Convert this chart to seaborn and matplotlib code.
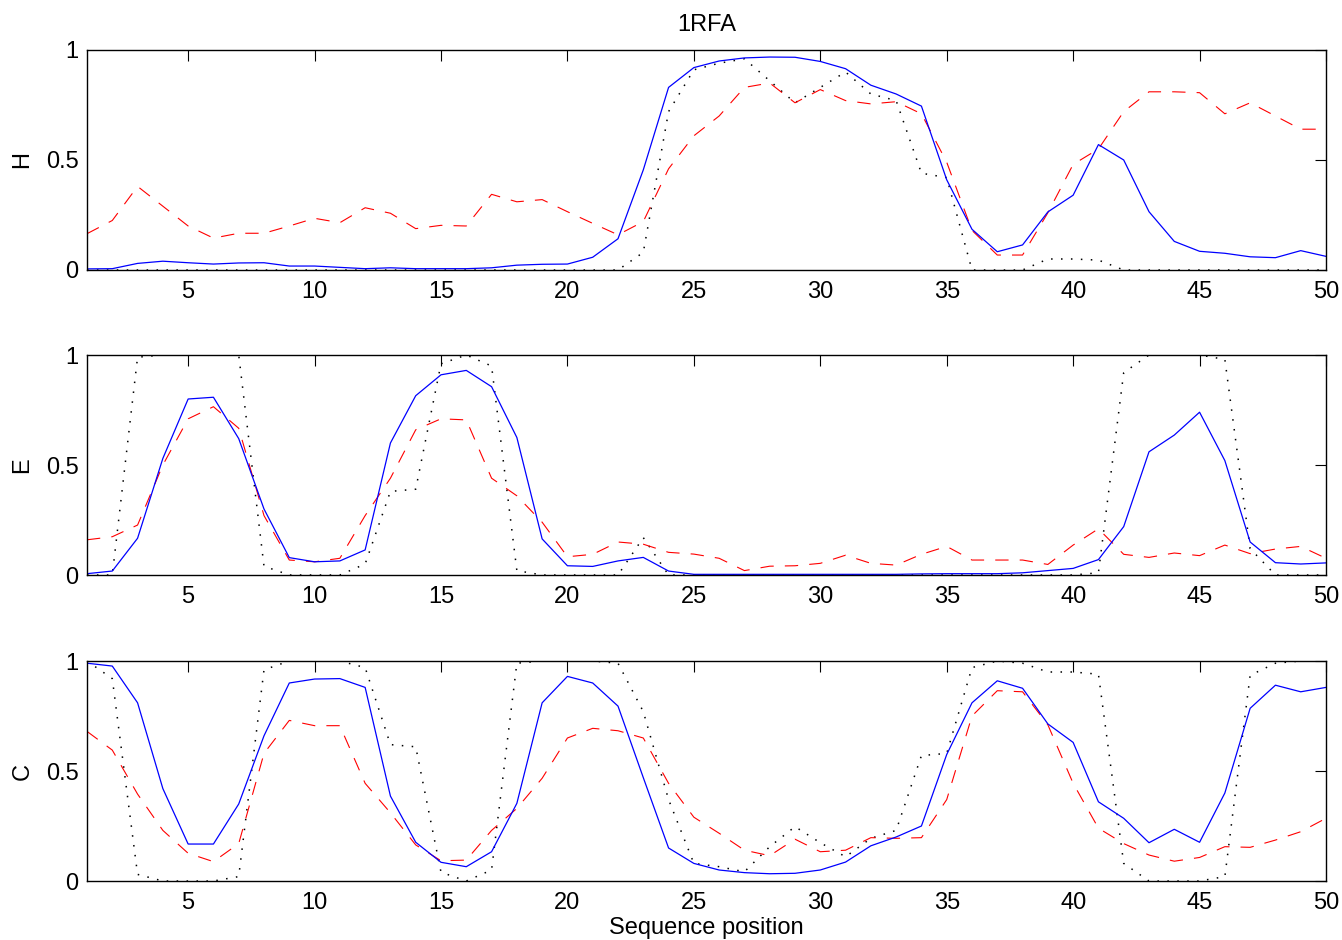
import numpy as np
import matplotlib
matplotlib.use('Agg')
import matplotlib.pyplot as plt
import seaborn as sns

# sequence positions
pos = np.arange(1, 51)

# H (helix): predicted (solid), second prediction (dashed), observed (dotted)
h_pred = [0.005, 0.006, 0.03, 0.04, 0.033, 0.027, 0.032, 0.033, 0.018, 0.018,
          0.012, 0.006, 0.01, 0.006, 0.006, 0.006, 0.01, 0.022, 0.026, 0.027,
          0.058, 0.142, 0.455, 0.83, 0.92, 0.95, 0.964, 0.968, 0.967, 0.948,
          0.915, 0.84, 0.80, 0.745, 0.41, 0.185, 0.083, 0.114, 0.264, 0.34,
          0.57, 0.50, 0.265, 0.13, 0.085, 0.076, 0.06, 0.056, 0.088, 0.062]
h_alt = [0.165, 0.225, 0.38, 0.29, 0.20, 0.145, 0.167, 0.167, 0.20, 0.235,
         0.215, 0.283, 0.258, 0.188, 0.203, 0.20, 0.344, 0.31, 0.32, 0.265,
         0.212, 0.16, 0.22, 0.46, 0.61, 0.70, 0.83, 0.85, 0.76, 0.82,
         0.77, 0.755, 0.765, 0.71, 0.49, 0.18, 0.068, 0.068, 0.26, 0.48,
         0.55, 0.72, 0.81, 0.81, 0.806, 0.71, 0.76, 0.70, 0.64, 0.64]
h_obs = [0, 0, 0, 0, 0, 0, 0, 0, 0, 0,
         0, 0, 0, 0, 0, 0, 0, 0, 0, 0,
         0, 0, 0.08, 0.72, 0.91, 0.94, 0.96, 0.86, 0.76, 0.83,
         0.90, 0.80, 0.77, 0.44, 0.42, 0, 0, 0, 0.05, 0.05,
         0.045, 0, 0, 0, 0, 0, 0, 0, 0, 0]

# E (strand)
e_pred = [0.006, 0.018, 0.167, 0.53, 0.80, 0.808, 0.62, 0.30, 0.079, 0.06,
          0.064, 0.114, 0.60, 0.815, 0.91, 0.93, 0.856, 0.625, 0.164, 0.042,
          0.039, 0.064, 0.08, 0.018, 0.003, 0.003, 0.003, 0.003, 0.003, 0.003,
          0.003, 0.003, 0.003, 0.005, 0.006, 0.006, 0.006, 0.01, 0.02, 0.03,
          0.07, 0.22, 0.56, 0.636, 0.74, 0.52, 0.15, 0.056, 0.05, 0.055]
e_alt = [0.16, 0.174, 0.227, 0.50, 0.71, 0.765, 0.667, 0.27, 0.068, 0.06,
         0.076, 0.27, 0.44, 0.66, 0.71, 0.705, 0.44, 0.36, 0.24, 0.083,
         0.094, 0.15, 0.14, 0.103, 0.095, 0.076, 0.02, 0.04, 0.042, 0.053,
         0.09, 0.053, 0.045, 0.094, 0.13, 0.068, 0.068, 0.068, 0.048, 0.136,
         0.21, 0.094, 0.08, 0.10, 0.088, 0.136, 0.097, 0.118, 0.13, 0.076]
e_obs = [0, 0, 0.99, 1, 1, 1, 1, 0.04, 0, 0,
         0, 0.05, 0.38, 0.39, 0.96, 1, 0.95, 0.02, 0, 0,
         0, 0, 0.17, 0, 0, 0, 0, 0, 0, 0,
         0, 0, 0, 0, 0, 0, 0, 0, 0, 0,
         0.01, 0.92, 1, 1, 1, 0.98, 0.12, 0, 0, 0]

# C (coil)
c_pred = [0.99, 0.977, 0.81, 0.42, 0.168, 0.168, 0.35, 0.66, 0.90, 0.918,
          0.92, 0.88, 0.386, 0.176, 0.085, 0.065, 0.133, 0.353, 0.81, 0.93,
          0.90, 0.795, 0.47, 0.15, 0.08, 0.05, 0.038, 0.033, 0.035, 0.05,
          0.086, 0.16, 0.20, 0.25, 0.575, 0.81, 0.91, 0.876, 0.714, 0.63,
          0.36, 0.285, 0.174, 0.235, 0.176, 0.40, 0.785, 0.89, 0.86, 0.88]
c_alt = [0.68, 0.595, 0.395, 0.23, 0.126, 0.088, 0.17, 0.58, 0.73, 0.706,
         0.706, 0.444, 0.31, 0.164, 0.092, 0.095, 0.23, 0.33, 0.467, 0.65,
         0.694, 0.683, 0.65, 0.444, 0.29, 0.217, 0.14, 0.115, 0.19, 0.133,
         0.14, 0.197, 0.194, 0.197, 0.37, 0.75, 0.865, 0.86, 0.71, 0.444,
         0.24, 0.17, 0.118, 0.09, 0.107, 0.156, 0.153, 0.186, 0.224, 0.285]
c_obs = [1.0, 0.92, 0.03, 0, 0, 0, 0.02, 0.96, 1, 1,
         1, 0.97, 0.62, 0.61, 0.04, 0, 0.05, 0.99, 1, 1,
         1, 0.99, 0.77, 0.37, 0.08, 0.065, 0.042, 0.156, 0.247, 0.174,
         0.11, 0.194, 0.23, 0.57, 0.58, 0.97, 1, 0.99, 0.95, 0.95,
         0.94, 0.08, 0, 0, 0, 0.02, 0.935, 0.99, 1, 1]

panels = [('H', h_pred, h_alt, h_obs),
          ('E', e_pred, e_alt, e_obs),
          ('C', c_pred, c_alt, c_obs)]

sns.set_style('white')
plt.rcParams['font.family'] = ['Liberation Sans', 'DejaVu Sans']
plt.rcParams['font.size'] = 17
plt.rcParams['text.color'] = 'k'
plt.rcParams['axes.labelcolor'] = 'k'

fig = plt.figure(figsize=(13.42, 9.4), dpi=100)
left, width = 87 / 1342, (1326 - 87) / 1342
tops = [50, 355, 661]
height = 220 / 940

for (name, pred, alt, obs), top in zip(panels, tops):
    ax = fig.add_axes([left, 1 - (top + 220) / 940, width, height])
    sns.lineplot(x=pos, y=obs, ax=ax, color='k', lw=1.1,
                 linestyle=(0, (1, 5.5)))
    sns.lineplot(x=pos, y=alt, ax=ax, color='r', lw=0.8,
                 linestyle=(0, (12, 10)))
    sns.lineplot(x=pos, y=pred, ax=ax, color='b', lw=0.9)
    ax.set_xlim(1, 50)
    ax.set_ylim(0, 1)
    ax.set_xticks(range(5, 51, 5))
    ax.set_yticks([0, 0.5, 1])
    ax.set_yticklabels(['0', '0.5', '1'])
    ax.tick_params(direction='in', top=True, right=True, length=8,
                   width=0.8, labelsize=17, colors='k')
    ax.tick_params(axis='x', pad=8)
    ax.tick_params(axis='y', pad=6)
    for sp in ax.spines.values():
        sp.set_color('k')
        sp.set_linewidth(1.0)
    ax.set_ylabel(name, fontsize=17, labelpad=9)
    ax.set_xlabel('')
    if name == 'H':
        ax.set_title('1RFA', fontsize=17, pad=14)
    if name == 'C':
        ax.set_xlabel('Sequence position', fontsize=17, labelpad=2)

fig.savefig('out.png', dpi=100)
